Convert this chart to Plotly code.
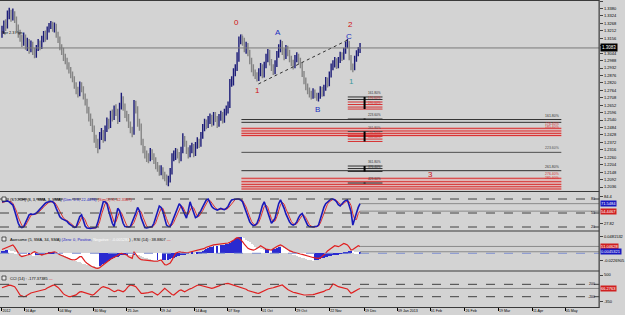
import plotly.graph_objects as go

# ---------------- data ----------------
closes = [1.3215,1.3260,1.3245,1.3330,1.3355,1.3310,1.3340,1.3300,1.3240,1.3190,
 1.3160,1.3120,1.3170,1.3095,1.3135,1.3070,1.3110,1.3060,1.3030,1.3080,
 1.3120,1.3090,1.3150,1.3180,1.3160,1.3220,1.3245,1.3265,1.3230,1.3250,
 1.3180,1.3150,1.3090,1.3060,1.3010,1.2990,1.2945,1.2920,1.2880,1.2855,
 1.2800,1.2760,1.2740,1.2800,1.2780,1.2720,1.2680,1.2620,1.2560,1.2530,
 1.2480,1.2400,1.2370,1.2350,1.2420,1.2440,1.2400,1.2470,1.2530,1.2500,
 1.2580,1.2560,1.2620,1.2600,1.2540,1.2640,1.2700,1.2640,1.2580,1.2560,
 1.2510,1.2470,1.2450,1.2660,1.2630,1.2520,1.2500,1.2380,1.2320,1.2280,
 1.2260,1.2250,1.2300,1.2270,1.2240,1.2200,1.2180,1.2150,1.2170,1.2120,
 1.2110,1.2070,1.2090,1.2150,1.2260,1.2270,1.2300,1.2280,1.2250,1.2310,
 1.2390,1.2370,1.2310,1.2280,1.2320,1.2340,1.2290,1.2350,1.2380,1.2360,
 1.2420,1.2480,1.2520,1.2500,1.2540,1.2560,1.2520,1.2570,1.2550,1.2510,
 1.2560,1.2580,1.2540,1.2600,1.2620,1.2650,1.2820,1.2830,1.2900,1.2930,
 1.3000,1.3150,1.3180,1.3140,1.3080,1.3100,1.3050,1.2990,1.2930,1.2900,
 1.2880,1.2860,1.2900,1.2940,1.2880,1.2950,1.3000,1.3060,1.2980,1.2940,
 1.2900,1.2960,1.3030,1.3080,1.3120,1.3060,1.3020,1.3080,1.3050,1.3000,
 1.2970,1.2950,1.3000,1.3020,1.2990,1.2960,1.2890,1.2840,1.2790,1.2760,
 1.2740,1.2720,1.2750,1.2730,1.2700,1.2720,1.2770,1.2740,1.2780,1.2840,
 1.2810,1.2880,1.2940,1.2960,1.2990,1.2950,1.2990,1.3030,1.3010,1.3060,
 1.3110,1.3120,1.3010,1.2940,1.2930,1.3000,1.3040,1.3060,1.3083]

opens = [1.3190,1.3215,1.3260,1.3245,1.3330,1.3355,1.3310,1.3340,1.3300,1.3240,
 1.3190,1.3160,1.3120,1.3170,1.3095,1.3135,1.3070,1.3110,1.3060,1.3030,
 1.3080,1.3120,1.3090,1.3150,1.3180,1.3160,1.3220,1.3245,1.3265,1.3230,
 1.3250,1.3180,1.3150,1.3090,1.3060,1.3010,1.2990,1.2945,1.2920,1.2880,
 1.2855,1.2800,1.2760,1.2740,1.2800,1.2780,1.2720,1.2680,1.2620,1.2560,
 1.2530,1.2480,1.2400,1.2370,1.2350,1.2420,1.2440,1.2400,1.2470,1.2530,
 1.2500,1.2580,1.2560,1.2620,1.2600,1.2540,1.2640,1.2700,1.2640,1.2580,
 1.2560,1.2510,1.2470,1.2450,1.2660,1.2630,1.2520,1.2500,1.2380,1.2320,
 1.2280,1.2260,1.2250,1.2300,1.2270,1.2240,1.2200,1.2180,1.2150,1.2170,
 1.2120,1.2110,1.2070,1.2090,1.2150,1.2260,1.2270,1.2300,1.2280,1.2250,
 1.2310,1.2390,1.2370,1.2310,1.2280,1.2320,1.2340,1.2290,1.2350,1.2380,
 1.2360,1.2420,1.2480,1.2520,1.2500,1.2540,1.2560,1.2520,1.2570,1.2550,
 1.2510,1.2560,1.2580,1.2540,1.2600,1.2620,1.2650,1.2820,1.2830,1.2900,
 1.2930,1.3000,1.3150,1.3180,1.3140,1.3080,1.3100,1.3050,1.2990,1.2930,
 1.2900,1.2880,1.2860,1.2900,1.2940,1.2880,1.2950,1.3000,1.3060,1.2980,
 1.2940,1.2900,1.2960,1.3030,1.3080,1.3120,1.3060,1.3020,1.3080,1.3050,
 1.3000,1.2970,1.2950,1.3000,1.3020,1.2990,1.2960,1.2890,1.2840,1.2790,
 1.2760,1.2740,1.2720,1.2750,1.2730,1.2700,1.2720,1.2770,1.2740,1.2780,
 1.2840,1.2810,1.2880,1.2940,1.2960,1.2990,1.2950,1.2990,1.3030,1.3010,
 1.3060,1.3110,1.3120,1.3010,1.2940,1.2930,1.3000,1.3040,1.3060]

highs = [1.3250,1.3290,1.3300,1.3365,1.3385,1.3370,1.3380,1.3360,1.3320,1.3260,
 1.3220,1.3185,1.3200,1.3185,1.3160,1.3150,1.3140,1.3130,1.3085,1.3105,
 1.3150,1.3140,1.3175,1.3210,1.3215,1.3245,1.3270,1.3285,1.3280,1.3275,
 1.3265,1.3205,1.3170,1.3110,1.3085,1.3040,1.3010,1.2975,1.2940,1.2905,
 1.2870,1.2825,1.2790,1.2830,1.2825,1.2795,1.2740,1.2700,1.2640,1.2590,
 1.2550,1.2500,1.2430,1.2400,1.2450,1.2480,1.2465,1.2500,1.2560,1.2550,
 1.2610,1.2620,1.2650,1.2660,1.2625,1.2670,1.2745,1.2720,1.2665,1.2610,
 1.2585,1.2530,1.2490,1.2692,1.2685,1.2645,1.2550,1.2515,1.2400,1.2345,
 1.2310,1.2290,1.2330,1.2320,1.2290,1.2260,1.2225,1.2200,1.2200,1.2185,
 1.2150,1.2130,1.2120,1.2180,1.2290,1.2310,1.2330,1.2325,1.2300,1.2340,
 1.2440,1.2420,1.2385,1.2335,1.2350,1.2370,1.2360,1.2375,1.2410,1.2400,
 1.2450,1.2510,1.2550,1.2545,1.2570,1.2590,1.2580,1.2600,1.2600,1.2570,
 1.2585,1.2610,1.2600,1.2625,1.2650,1.2680,1.2850,1.2870,1.2930,1.2960,
 1.3050,1.3170,1.3185,1.3175,1.3160,1.3130,1.3120,1.3070,1.3010,1.2960,
 1.2920,1.2900,1.2930,1.2970,1.2960,1.2980,1.3040,1.3075,1.3070,1.3000,
 1.2960,1.2990,1.3060,1.3110,1.3145,1.3135,1.3080,1.3105,1.3100,1.3070,
 1.3025,1.2995,1.3030,1.3050,1.3040,1.3010,1.2975,1.2910,1.2860,1.2815,
 1.2785,1.2760,1.2780,1.2770,1.2745,1.2745,1.2795,1.2790,1.2805,1.2865,
 1.2860,1.2905,1.2965,1.2990,1.3015,1.3005,1.3015,1.3055,1.3050,1.3085,
 1.3130,1.3150,1.3135,1.3030,1.2965,1.3025,1.3065,1.3090,1.3120]

lows = [1.3160,1.3190,1.3210,1.3230,1.3300,1.3280,1.3290,1.3270,1.3210,1.3160,
 1.3130,1.3090,1.3100,1.3070,1.3060,1.3040,1.3050,1.3030,1.3005,1.3010,
 1.3060,1.3065,1.3075,1.3125,1.3130,1.3145,1.3200,1.3225,1.3205,1.3200,
 1.3160,1.3120,1.3065,1.3030,1.2985,1.2960,1.2920,1.2890,1.2855,1.2825,
 1.2775,1.2735,1.2710,1.2720,1.2750,1.2695,1.2650,1.2590,1.2530,1.2495,
 1.2450,1.2370,1.2330,1.2290,1.2320,1.2390,1.2370,1.2380,1.2450,1.2470,
 1.2480,1.2530,1.2540,1.2570,1.2510,1.2525,1.2620,1.2610,1.2555,1.2530,
 1.2480,1.2440,1.2410,1.2430,1.2590,1.2490,1.2460,1.2350,1.2290,1.2250,
 1.2225,1.2215,1.2230,1.2240,1.2210,1.2170,1.2150,1.2120,1.2125,1.2095,
 1.2080,1.2050,1.2042,1.2070,1.2130,1.2230,1.2240,1.2250,1.2215,1.2230,
 1.2290,1.2340,1.2285,1.2250,1.2260,1.2290,1.2260,1.2270,1.2325,1.2330,
 1.2340,1.2400,1.2455,1.2470,1.2480,1.2510,1.2490,1.2500,1.2525,1.2480,
 1.2490,1.2535,1.2515,1.2520,1.2575,1.2590,1.2630,1.2790,1.2800,1.2870,
 1.2910,1.2980,1.3110,1.3100,1.3050,1.3040,1.3020,1.2960,1.2900,1.2870,
 1.2850,1.2830,1.2835,1.2870,1.2855,1.2860,1.2930,1.2975,1.2950,1.2910,
 1.2880,1.2885,1.2940,1.3010,1.3050,1.3030,1.2990,1.3000,1.3020,1.2975,
 1.2945,1.2920,1.2930,1.2975,1.2960,1.2930,1.2865,1.2810,1.2765,1.2735,
 1.2710,1.2695,1.2700,1.2705,1.2685,1.2680,1.2700,1.2715,1.2720,1.2760,
 1.2785,1.2795,1.2860,1.2915,1.2935,1.2925,1.2930,1.2970,1.2985,1.2995,
 1.3040,1.3080,1.2990,1.2915,1.2900,1.2915,1.2980,1.3020,1.3045]

stoch_main = [74,75,76,76,74,71,67,55,40,28,
 21,19,21,30,40,46,48,47,48,50,
 54,58,63,68,71,73,74,75,74,70,
 60,52,42,38,36,35,32,27,24,21,
 19,20,32,42,46,36,22,18,17,17,
 18,18,19,30,45,62,74,74,70,55,
 40,28,21,45,60,55,39,28,21,20,
 20,21,30,40,50,62,55,39,28,19,
 18,19,20,21,28,39,52,65,62,53,
 38,24,21,21,30,40,48,60,70,65,
 55,46,39,55,74,62,48,40,42,48,
 55,63,72,78,80,72,64,60,58,56,
 58,60,58,57,60,64,72,78,79,80,
 80,80,78,74,62,53,40,31,26,23,
 24,28,38,53,66,74,62,49,36,28,
 33,39,55,70,78,70,60,48,38,31,
 26,24,26,31,40,46,49,40,31,24,
 21,20,20,21,21,24,38,53,62,70,
 74,78,80,80,78,74,68,65,70,74,
 77,78,66,53,24,35,50,62,70]

stoch_signal = [72,73,75,76,75,74,71,64,54,41,
 30,23,20,23,30,39,45,47,48,48,
 51,54,58,63,67,71,73,74,74,73,
 68,61,51,44,39,36,34,31,28,24,
 21,20,24,31,40,41,35,25,19,17,
 17,18,18,22,31,46,60,70,73,66,
 55,41,30,31,42,53,51,41,29,23,
 20,20,24,30,40,51,56,52,41,29,
 22,19,19,20,23,29,40,52,60,60,
 51,38,28,22,24,30,39,49,59,65,
 63,55,47,47,56,64,61,50,43,43,
 48,55,63,71,77,77,72,65,61,58,
 57,58,59,58,58,60,65,71,76,79,
 80,80,79,77,71,63,52,41,32,27,
 24,25,30,40,52,64,67,62,49,38,
 32,33,42,55,68,73,69,59,49,39,
 32,27,25,27,32,39,45,45,40,32,
 25,22,20,20,21,22,28,38,51,62,
 69,74,77,79,79,77,73,69,68,70,
 74,76,74,66,48,37,36,49,54]

ao_values = [0.007,0.008,0.009,0.010,0.010,0.008,0.006,0.004,0.002,0.000,
 -0.002,-0.004,-0.006,-0.007,-0.007,-0.006,-0.006,-0.007,-0.007,-0.006,
 -0.005,-0.004,-0.003,-0.002,-0.001,0.000,0.002,0.003,0.004,0.005,
 0.004,0.002,-0.001,-0.003,-0.005,-0.008,-0.011,-0.014,-0.017,-0.020,
 -0.022,-0.024,-0.026,-0.027,-0.029,-0.031,-0.033,-0.034,-0.035,-0.036,
 -0.037,-0.038,-0.039,-0.040,-0.038,-0.036,-0.033,-0.030,-0.027,-0.024,
 -0.021,-0.018,-0.015,-0.012,-0.010,-0.008,-0.006,-0.005,-0.004,-0.003,
 -0.003,-0.004,-0.004,-0.003,-0.003,-0.004,-0.006,-0.008,-0.011,-0.013,
 -0.015,-0.017,-0.018,-0.019,-0.020,-0.020,-0.019,-0.020,-0.021,-0.020,
 -0.019,-0.020,-0.019,-0.017,-0.015,-0.013,-0.011,-0.009,-0.007,-0.006,
 -0.004,-0.003,-0.002,-0.001,0.000,0.001,0.000,-0.001,0.001,0.003,
 0.005,0.008,0.011,0.014,0.017,0.019,0.020,0.021,0.021,0.022,
 0.022,0.023,0.024,0.025,0.026,0.028,0.031,0.035,0.039,0.043,
 0.046,0.048,0.049,0.047,0.044,0.040,0.036,0.032,0.028,0.024,
 0.020,0.017,0.015,0.013,0.012,0.011,0.012,0.013,0.012,0.011,
 0.012,0.014,0.016,0.018,0.019,0.018,0.016,0.013,0.009,0.005,
 0.001,-0.003,-0.006,-0.008,-0.010,-0.011,-0.013,-0.015,-0.017,-0.019,
 -0.020,-0.021,-0.022,-0.021,-0.020,-0.019,-0.017,-0.015,-0.013,-0.011,
 -0.010,-0.008,-0.007,-0.006,-0.005,-0.004,-0.003,-0.002,-0.001,0.001,
 0.003,0.005,0.006,0.007,0.006,0.005,0.005,0.004,0.0045]

rsi_values = [47,48,50,51,52,53,53,50,46,42,
 39,37.5,38,39,40,39.7,41,43,44,43,
 42,40,39.7,40.5,41,42,42,43,44,44,
 43,41,40,39,38,37,35.4,34.5,34,33.5,
 33.2,34,36,37.5,37.5,34,31,29,27,25.5,
 24.3,23,22.5,22.2,23,25,27,29,31,33,
 34,35.5,36.5,37.5,39,41,42,41,40,39.7,
 37.5,36,35.4,44,40,37.5,35,33.5,33.2,33,
 33.2,33.2,33,32,31.5,31,31.5,32.5,33.2,30,
 27,26.6,28,29,33,37,42,43,44,43.5,
 43,42,42.5,43,43.5,44,44.5,45,46,46.5,
 47,47.5,48.5,50,51,52,52.9,53,53.3,53.5,
 53.6,53.8,54,54.2,55,55.5,56.5,57.3,59,61,
 62.5,62,60,57.3,54,51,48.5,47.5,47,46.3,
 47,48,50,52,51,49,47.5,47,46.5,46.3,
 48,50,51,52,52.9,52,50,48.5,47,45.5,
 44,43.5,43,42,41.5,41,40.5,39.7,39,38,
 37.5,37,36.5,36,35.5,35.4,36,38,39.7,42,
 45,47,48.5,50,52,51.5,50.7,52,54,55,
 54,53,50,46.3,47,48.5,50.5,52,51]

cci_values = [90,110,124,150,175,165,140,124,40,-60,
 -145,-175,-200,-185,-140,-95,-80,-65,-50,-39,
 -25,-5,10,16,40,80,115,140,165,178,
 150,100,40,-40,-110,-145,-180,-200,-195,-180,
 -160,-140,-90,-45,-39,-60,-85,-100,-125,-140,
 -145,-120,-60,0,50,100,124,110,90,71,
 30,-10,-39,-20,16,5,-20,-39,0,80,
 140,178,170,150,124,40,-40,-90,-90,-90,
 -90,-70,-50,-39,-70,-120,-145,-100,-39,20,
 71,20,-39,-90,-130,-145,-100,-40,0,16,
 -10,-39,-10,30,55,71,110,150,170,178,
 165,140,124,110,95,80,71,85,100,124,
 150,180,200,215,225,232,215,178,160,140,
 124,110,95,80,71,40,0,-20,-39,-55,
 -70,-85,-90,-60,-20,16,30,50,65,71,
 90,110,130,150,170,178,130,71,30,0,
 -39,-55,-70,-90,-100,-115,-130,-145,-145,-145,
 -145,-145,-130,-115,-100,-90,-75,-60,-30,10,
 25,40,120,210,190,150,124,110,100,90,
 70,50,-20,-90,-60,-20,16,40,66]

bar_index = list(range(len(closes)))

price_ticks = [1.2036,1.2092,1.2148,1.2204,1.2260,1.2316,1.2372,1.2428,1.2484,1.2540,
 1.2596,1.2652,1.2708,1.2764,1.2820,1.2876,1.2932,1.2988,1.3044,1.3100,
 1.3156,1.3212,1.3268,1.3324,1.3380,1.3436]
date_labels = ["2012","16 Apr","04 May","30 May","25 Jun","19 Jul","14 Aug","07 Sep","01 Oct",
 "29 Oct","22 Nov","19 Dec","09 Jan 2013","01 Feb","26 Feb","19 Mar","11 Apr","05 May"]
date_tick_index = [0,12.6,31.5,50.7,69.1,87.7,106.6,124.9,143.6,162.5,181.2,200.4,218.7,
 236.8,256,274.6,293.4,311.5]

last_price = 1.3083
stoch_levels = [80, 50, 20]
cci_levels = [200, -200]

# Fibonacci expansion levels (long lines from the wave-0 bar)
fib_anchor_bar = 132.4
fib_end_bar = 309.3
fib_long_levels = [1.2544,1.2523,1.2478,1.2458,1.2440,1.2424,1.2297,1.2159,1.2102,1.2076,1.2056,1.2038,1.2021]
fib_long_colors = ["#303030","#303030","#d83030","#d83030","#d83030","#d83030","#505050","#303030",
 "#d83030","#d83030","#d83030","#d83030","#d83030"]
fib_long_labels = ["161.80%","","176.40%","185.40%","","","223.60%","261.80%",
 "276.40%","285.40%","","",""]
fib_bands = [(1.2412, 1.2484), (1.2014, 1.2106)]
# short fib group
fib_short_start = 191.2
fib_short_end = 210.4
fib_short_marker = 200.5
fib_short_levels = [1.2714,1.2695,1.2676,1.2657,1.2638,1.2623,1.2548,1.2454,1.2435,1.2416,1.2397,1.2379,1.2194,1.2175,1.2153,1.2066]
fib_short_colors = ["#303030","#303030","#d83030","#d83030","#d83030","#d83030","#303030","#505050",
 "#d83030","#d83030","#d83030","#d83030","#303030","#303030","#303030","#303030"]
fib_short_labels = ["161.80%","","176.40%","","190.00%","","223.60%","261.80%",
 "","276.40%","","300.00%","361.80%","","376.40%","423.60%"]

wave_text = ["0","1","A","B","C","2","1","3"]
wave_bar = [129.7,141.2,152.7,174.7,191.8,192.6,193.4,236.8]
wave_price = [1.3278,1.2766,1.3196,1.2623,1.3168,1.3262,1.2834,1.2134]
wave_color = ["#d01010","#d01010","#2030c0","#2030c0","#2030c0","#d01010","#3a9a9a","#d01010"]

trend_bars = [141.8, 191.2]
trend_prices = [1.2812, 1.3143]

# ---------------- figure ----------------
BG = "#d3d3d3"
FONT = "Liberation Sans"
fig = go.Figure()

fig.add_trace(go.Ohlc(x=bar_index, open=opens, high=highs, low=lows, close=closes,
    increasing=dict(line=dict(color="#1c1c78", width=1.4)),
    decreasing=dict(line=dict(color="#858585", width=1.4)),
    tickwidth=0.35, xaxis="x", yaxis="y", hoverinfo="skip", showlegend=False))

fig.add_trace(go.Scatter(x=trend_bars, y=trend_prices, mode="lines",
    line=dict(color="#303030", width=1, dash="dot"), xaxis="x", yaxis="y", hoverinfo="skip"))

fig.add_trace(go.Scatter(x=bar_index, y=stoch_signal, mode="lines",
    line=dict(color="#e03030", width=1), xaxis="x", yaxis="y2", hoverinfo="skip"))
fig.add_trace(go.Scatter(x=bar_index, y=stoch_main, mode="lines",
    line=dict(color="#1818b8", width=1.6), xaxis="x", yaxis="y2", hoverinfo="skip"))

ao_colors = ["#2a2ad0"] + ["#2a2ad0" if ao_values[i] > ao_values[i-1] else "#ffffff"
                            for i in range(1, len(ao_values))]
fig.add_trace(go.Bar(x=bar_index, y=ao_values, width=0.5, marker=dict(color=ao_colors, line=dict(width=0)),
    xaxis="x", yaxis="y3", hoverinfo="skip"))
fig.add_trace(go.Scatter(x=bar_index, y=rsi_values, mode="lines",
    line=dict(color="#e02020", width=1.2), xaxis="x", yaxis="y4", hoverinfo="skip"))

fig.add_trace(go.Scatter(x=bar_index, y=cci_values, mode="lines",
    line=dict(color="#e02020", width=1.2), xaxis="x", yaxis="y5", hoverinfo="skip"))

shapes = []
annotations = []
XDOM = 603 / 625

def py(p):  # pixel row -> paper y
    return 1 - p / 315

# fib bands and lines
for lo, hi in fib_bands:
    shapes.append(dict(type="rect", xref="x", yref="y", x0=fib_anchor_bar, x1=fib_end_bar, y0=lo, y1=hi,
                       fillcolor="rgba(240,150,150,0.45)", line=dict(width=0), layer="below"))
for lvl, col, lab in zip(fib_long_levels, fib_long_colors, fib_long_labels):
    shapes.append(dict(type="line", xref="x", yref="y", x0=fib_anchor_bar, x1=fib_end_bar, y0=lvl, y1=lvl,
                       line=dict(color=col, width=1)))
    if lab:
        annotations.append(dict(xref="x", yref="y", x=fib_end_bar, y=lvl, text=lab, showarrow=False,
                                xanchor="right", yanchor="bottom", font=dict(size=3.5, color=col, family=FONT)))
for lvl, col, lab in zip(fib_short_levels, fib_short_colors, fib_short_labels):
    shapes.append(dict(type="line", xref="x", yref="y", x0=fib_short_start, x1=fib_short_end, y0=lvl, y1=lvl,
                       line=dict(color=col, width=1)))
    if lab:
        annotations.append(dict(xref="x", yref="y", x=fib_short_marker + 0.8, y=lvl, text=lab, showarrow=False,
                                xanchor="left", yanchor="bottom", font=dict(size=3.2, color=col, family=FONT)))
for a, b in [(1.2623, 1.2714), (1.2545, 1.2551), (1.2379, 1.2454), (1.2153, 1.2194), (1.2063, 1.2069)]:
    shapes.append(dict(type="line", xref="x", yref="y", x0=fib_short_marker, x1=fib_short_marker, y0=a, y1=b,
                       line=dict(color="#000000", width=2)))

# last price line
shapes.append(dict(type="line", xref="x domain", yref="y", x0=0, x1=1, y0=last_price, y1=last_price,
                   line=dict(color="#7a7a7a", width=1)))
annotations.append(dict(xref="paper", yref="y", x=XDOM + 0.002, y=last_price, text="1.3083", showarrow=False,
                        xanchor="left", yanchor="middle", bgcolor="#000000", font=dict(size=4.5, color="#ffffff", family=FONT),
                        borderpad=1))

# indicator level lines
for lv in stoch_levels:
    shapes.append(dict(type="line", xref="x domain", yref="y2", x0=0, x1=1, y0=lv, y1=lv,
                       line=dict(color="#404040", width=1, dash="dash")))
    annotations.append(dict(xref="paper", yref="y2", x=XDOM - 0.003, y=lv, text=str(lv), showarrow=False,
                            xanchor="right", yanchor="middle", font=dict(size=3.5, color="#000", family=FONT)))
shapes.append(dict(type="line", xref="x domain", yref="y3", x0=0, x1=1, y0=0, y1=0,
                   line=dict(color="#7f8fd0", width=1, dash="dash")))
for lv in cci_levels:
    shapes.append(dict(type="line", xref="x domain", yref="y5", x0=0, x1=1, y0=lv, y1=lv,
                       line=dict(color="#404040", width=1, dash="dash")))
    annotations.append(dict(xref="paper", yref="y5", x=XDOM - 0.003, y=lv, text=str(lv), showarrow=False,
                            xanchor="right", yanchor="middle", font=dict(size=3.5, color="#000", family=FONT)))

# last-value lines in sub windows
last_i = bar_index[-1]
for ax, v in [("y2", stoch_main[-1]), ("y2", stoch_signal[-1]), ("y4", rsi_values[-1]), ("y3", ao_values[-1]), ("y5", cci_values[-1])]:
    shapes.append(dict(type="line", xref="x", yref=ax, x0=last_i, x1=330.2, y0=v, y1=v,
                       line=dict(color="#8a8a8a", width=1)))

# value boxes on the right scale
for ax, v, txt, col in [("y2", stoch_main[-1], "71.5484", "#1818c0"), ("y2", stoch_signal[-1], "54.4467", "#d02020"),
                        ("y4", rsi_values[-1], "51.04628", "#d02020"), ("y3", ao_values[-1], "0.0045321", "#1818c0"),
                        ("y5", cci_values[-1], "66.2763", "#d02020")]:
    annotations.append(dict(xref="paper", yref=ax, x=XDOM + 0.002, y=v, text=txt, showarrow=False,
                            xanchor="left", yanchor="middle", bgcolor=col, borderpad=0,
                            font=dict(size=4, color="#ffffff", family=FONT)))

# panel frames
for p in [0.5, 191.5, 231, 271, 307.5]:
    shapes.append(dict(type="line", xref="paper", yref="paper", x0=0, x1=XDOM, y0=py(p), y1=py(p),
                       line=dict(color="#3a3a3a", width=1.2)))
shapes.append(dict(type="line", xref="paper", yref="paper", x0=XDOM, x1=XDOM, y0=py(308), y1=1,
                   line=dict(color="#3a3a3a", width=1.2)))

# small window icons and titles
for p in [199, 239, 278]:
    shapes.append(dict(type="rect", xref="paper", yref="paper", x0=2/625, x1=6/625, y0=py(p + 2), y1=py(p - 2),
                       line=dict(color="#303030", width=0.8), fillcolor="#e8e8e8"))
titles = [
    (199, "(STOCH) (8, 3, SMA, 3, SMA) <span style='color:#1818c0'>(Dim: 5 X, 22.4676)</span> "
          "<span style='color:#d02020'>(Sim(3) X, 32.3367)</span>"),
    (239, "Awesome (5, SMA, 34, SMA) <span style='color:#1818c0'>(Zero: 0, Positive, </span>"
          "<span style='color:#ffffff'>Negative : -0.005283</span>) , RSI (14) : 38.8807 "
          "<span style='color:#e02020'>&#8212;</span>"),
    (278, "CCI (14) : -177.37385 <span style='color:#e02020'>&#8212;</span>"),
]
for p, t in titles:
    annotations.append(dict(xref="paper", yref="paper", x=8/625, y=py(p), text=t, showarrow=False,
                            xanchor="left", yanchor="middle", font=dict(size=3.9, color="#000", family=FONT)))

annotations.append(dict(xref="paper", yref="paper", x=0.5/625, y=py(33), text="Spr 2.3 Pips", showarrow=False,
                        xanchor="left", yanchor="middle", font=dict(size=3.8, color="#000", family=FONT)))

for t, b, p, c in zip(wave_text, wave_bar, wave_price, wave_color):
    annotations.append(dict(xref="x", yref="y", x=b, y=p, text=t, showarrow=False,
                            font=dict(size=8, color=c, family=FONT)))

axis_common = dict(showgrid=False, zeroline=False, showline=False, fixedrange=True)
fig.update_layout(
    width=625, height=315, margin=dict(l=0, r=0, t=0, b=0),
    paper_bgcolor=BG, plot_bgcolor=BG, showlegend=False, bargap=0,
    font=dict(family=FONT, size=4, color="#000"),
    xaxis=dict(domain=[0, XDOM], range=[-1.1, 330.2], anchor="y5", ticks="outside", ticklen=3, tickcolor="#000",
               tickvals=date_tick_index, ticktext=date_labels, ticklabelposition="outside right",
               tickfont=dict(size=3.6, family=FONT), rangeslider=dict(visible=False), **axis_common),
    yaxis=dict(domain=[py(191), 1], range=[1.2006, 1.3444], side="right", anchor="x", ticks="outside", ticklen=3,
               tickvals=price_ticks, ticktext=[f"{v:.4f}" for v in price_ticks], tickfont=dict(size=4, family=FONT),
               **axis_common),
    yaxis2=dict(domain=[py(230), py(192)], range=[13.6, 95], side="right", anchor="x", ticks="outside", ticklen=3,
                tickvals=[84.4, 27.82], ticktext=["84.4", "27.82"], tickfont=dict(size=4, family=FONT), **axis_common),
    yaxis3=dict(domain=[py(270), py(232)], range=[-0.0493, 0.0628], side="right", anchor="x", ticks="outside", ticklen=3,
                tickvals=[0.0481532, -0.0226905], ticktext=["0.0481532", "-0.0226905"], tickfont=dict(size=4, family=FONT),
                **axis_common),
    yaxis4=dict(overlaying="y3", range=[20, 70], side="right", anchor="x", showticklabels=False, ticks="", **axis_common),
    yaxis5=dict(domain=[py(307), py(272)], range=[-533, 598], side="right", anchor="x", ticks="outside", ticklen=3,
                tickvals=[500, -350], ticktext=["500", "-350"], tickfont=dict(size=4, family=FONT), **axis_common),
    shapes=shapes, annotations=annotations,
)

fig.write_html("out.html", config={"displayModeBar": False})
